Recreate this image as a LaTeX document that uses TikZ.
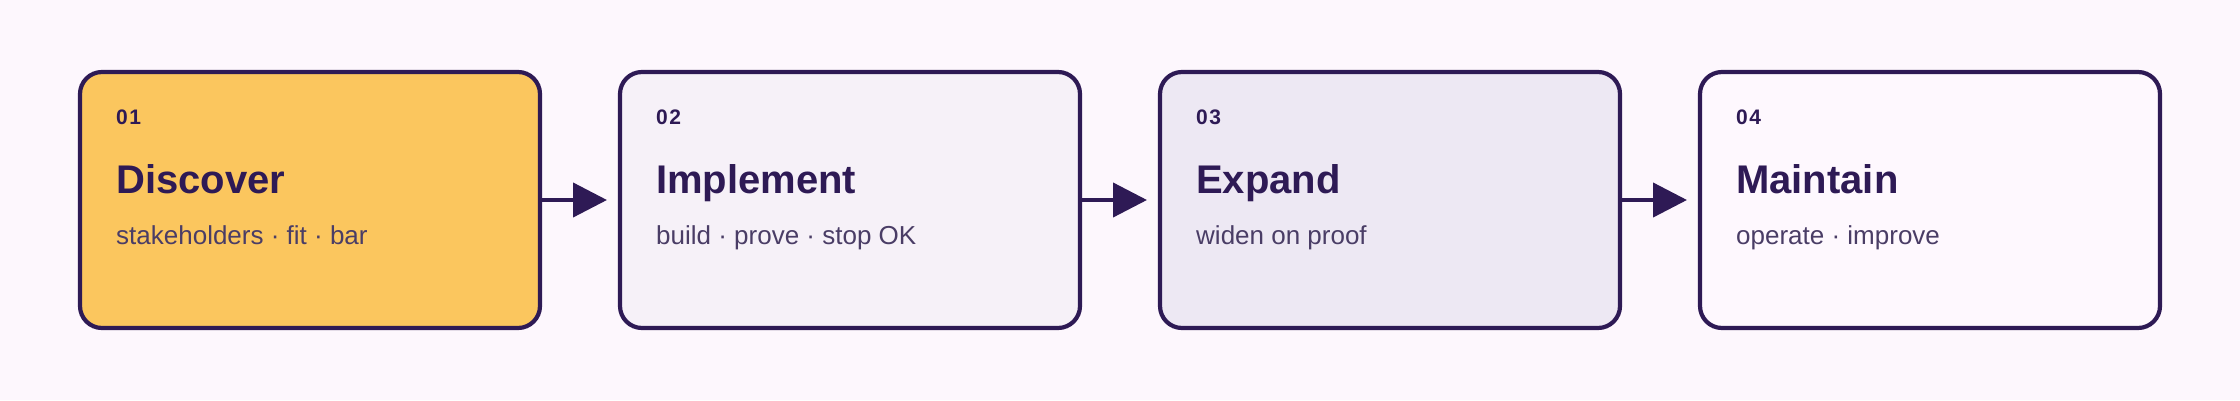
\documentclass[tikz,border=0pt]{standalone}
\usepackage{fontspec}
\setmainfont{Liberation Sans}
\usetikzlibrary{arrows.meta}
\definecolor{ink}{HTML}{2E1A55}
\definecolor{subink}{HTML}{4A3D66}
\definecolor{bgc}{HTML}{FDF7FD}
\definecolor{fillA}{HTML}{FBC65E}
\definecolor{fillB}{HTML}{F6F1F8}
\definecolor{fillC}{HTML}{EDE8F3}
\definecolor{fillD}{HTML}{FEF8FE}
\newfontfamily\numfont[LetterSpace=7]{Liberation Sans}
\tikzset{
  stagebox/.style={draw=ink, line width=4.2pt, rounded corners=22pt, rectangle,
    minimum width=460pt, minimum height=256pt, inner sep=0pt, outer sep=0pt},
  numlabel/.style={anchor=base west, inner sep=0pt, text=ink,
    font=\numfont\bfseries\fontsize{21}{25}\selectfont},
  titlelabel/.style={anchor=base west, inner sep=0pt, text=ink,
    font=\bfseries\fontsize{40}{48}\selectfont},
  sublabel/.style={anchor=base west, inner sep=0pt, text=subink,
    font=\fontsize{26}{32}\selectfont},
  flow/.style={draw=ink, line width=4.2pt, -{Triangle[length=34pt,width=34pt]}, shorten >=13pt}
}
\begin{document}
\begin{tikzpicture}[x=1pt,y=1pt]
\fill[bgc] (0,0) rectangle (2240,400);
\useasboundingbox (0,0) rectangle (2240,400);
\node[stagebox, fill=fillA] (b1) at (310,200) {};
\node[stagebox, fill=fillB] (b2) at (850,200) {};
\node[stagebox, fill=fillC] (b3) at (1390,200) {};
\node[stagebox, fill=fillD] (b4) at (1930,200) {};
\node[numlabel] (n1) at (116,276) {01};
\node[titlelabel] (t1) at (116,207) {Discover};
\node[sublabel] (s1) at (116,156) {stakeholders · fit · bar};
\node[numlabel] (n2) at (656,276) {02};
\node[titlelabel] (t2) at (656,207) {Implement};
\node[sublabel] (s2) at (656,156) {build · prove · stop OK};
\node[numlabel] (n3) at (1196,276) {03};
\node[titlelabel] (t3) at (1196,207) {Expand};
\node[sublabel] (s3) at (1196,156) {widen on proof};
\node[numlabel] (n4) at (1736,276) {04};
\node[titlelabel] (t4) at (1736,207) {Maintain};
\node[sublabel] (s4) at (1736,156) {operate · improve};
\draw[flow] (b1.east) -- (b2.west);
\draw[flow] (b2.east) -- (b3.west);
\draw[flow] (b3.east) -- (b4.west);
\end{tikzpicture}
\end{document}
